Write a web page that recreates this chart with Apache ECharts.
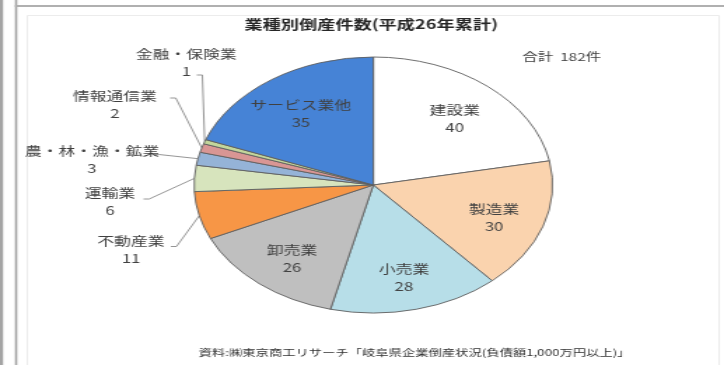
<!DOCTYPE html>
<html>
<head>
<meta charset="utf-8">
<script src="https://cdn.jsdelivr.net/npm/echarts@6/dist/echarts.min.js"></script>
<style>
  html, body { margin: 0; padding: 0; background: #fff; overflow: hidden; }
  #wrap { width: 724px; height: 365px; overflow: hidden; position: relative; }
  /* the chart is laid out on a narrower canvas and widened to the page width */
  #chart { width: 517px; height: 365px; transform: scaleX(1.40039); transform-origin: 0 0; }
</style>
</head>
<body>
<div id="wrap"><div id="chart"></div></div>
<script>
// 業種別倒産件数（平成26年累計）
const categories = ['建設業', '製造業', '小売業', '卸売業', '不動産業', '運輸業', '農・林・漁・鉱業', '情報通信業', '金融・保険業', 'サービス業他'];
const counts = [40, 30, 28, 26, 11, 6, 3, 2, 1, 35];
const titleText = '業種別倒産件数(平成26年累計)';
const totalText = '合計  182件';
const sourceText = '資料:㈱東京商工リサーチ「岐阜県企業倒産状況(負債額1,000万円以上)」';

// slice fill colours, same order as categories
const palette = ['#FFFFFF', '#FAD3AE', '#B7DEE8', '#BFBFBF', '#F79646', '#D7E4BD', '#95B3D7', '#D99694', '#C3D69B', '#4683D6'];

const FONT = "'Noto Sans CJK JP', 'Noto Sans CJK SC', sans-serif";
const CX = 266.6, CY = 185, R = 128;
const INSIDE_SCALE = 1.36;

// hand-placed callouts for the thin slices: label centre and where the leader leaves the label
const callouts = {
  4: { x: 93.6, y: 249.5, lx: 122, ly: 246.5 },
  5: { x: 78.6, y: 202, lx: 102.5, ly: 199 },
  6: { x: 65.7, y: 160, lx: 109.5, ly: 154.5 },
  7: { x: 82, y: 105, lx: 121.5, ly: 98 },
  8: { x: 133, y: 63, lx: 140.5, ly: 75 }
};

const seriesData = categories.map((name, i) => {
  const item = { name: name, value: counts[i], itemStyle: { color: palette[i] } };
  if (callouts[i]) {
    item.label = { position: 'outside' };
    item.labelLine = { show: true };
  }
  return item;
});

const chart = echarts.init(document.getElementById('chart'), null, { renderer: 'canvas' });

chart.setOption({
  animation: false,
  backgroundColor: '#ffffff',
  graphic: [
    // outer frame lines
    { type: 'rect', silent: true, shape: { x: 0, y: 0, width: 2.2, height: 365 }, style: { fill: '#a4a4a4' } },
    { type: 'rect', silent: true, shape: { x: 10.7, y: 0, width: 1.6, height: 365 }, style: { fill: '#a4a4a4' } },
    { type: 'rect', silent: true, shape: { x: 10.7, y: 5, width: 510, height: 2 }, style: { fill: '#b0b0b0' } },
    // chart area border
    { type: 'rect', silent: true, shape: { x: 19.5, y: 15.5, width: 494, height: 360 }, style: { fill: 'none', stroke: '#ececec', lineWidth: 1 } },
    { type: 'text', silent: true, x: 265, y: 24,
      style: { text: titleText, align: 'center', verticalAlign: 'middle', font: 'bold 13px ' + FONT, fill: '#262626' } },
    { type: 'text', silent: true, x: 373, y: 57,
      style: { text: totalText, align: 'left', verticalAlign: 'middle', font: '11px ' + FONT, fill: '#404040' } },
    { type: 'text', silent: true, x: 296, y: 352,
      style: { text: sourceText, align: 'center', verticalAlign: 'middle', font: '9.5px ' + FONT, fill: '#333333' } }
  ],
  series: [{
    type: 'pie',
    center: [CX, CY],
    radius: R,
    startAngle: 90,
    clockwise: true,
    avoidLabelOverlap: false,
    silent: true,
    emphasis: { disabled: true },
    itemStyle: { borderColor: '#5f5f5f', borderWidth: 0.9 },
    label: {
      show: true,
      position: 'inside',
      formatter: '{b}\n{c}',
      fontFamily: FONT,
      fontSize: 12,
      lineHeight: 17,
      color: '#404040',
      align: 'center'
    },
    labelLine: { show: false, lineStyle: { color: '#8a8a8a', width: 0.9 } },
    labelLayout: function (p) {
      const c = callouts[p.dataIndex];
      if (c) {
        const start = p.labelLinePoints ? p.labelLinePoints[0] : [CX, CY];
        return {
          x: c.x, y: c.y, align: 'center', verticalAlign: 'middle',
          labelLinePoints: [start, [c.lx + 4, c.ly], [c.lx, c.ly]]
        };
      }
      // push the inside labels further out from the centre
      const r = p.labelRect;
      const mx = r.x + r.width / 2, my = r.y + r.height / 2;
      return {
        x: CX + (mx - CX) * INSIDE_SCALE,
        y: CY + (my - CY) * INSIDE_SCALE + 4,
        align: 'center', verticalAlign: 'middle'
      };
    },
    data: seriesData
  }]
});
</script>
</body>
</html>
